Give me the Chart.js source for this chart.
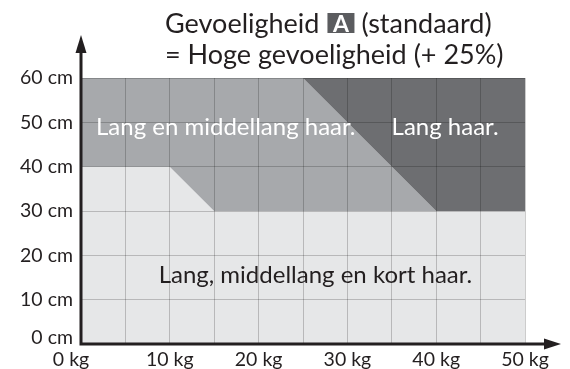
<!DOCTYPE html>
<html>
<head>
<meta charset="utf-8">
<script src="https://cdn.jsdelivr.net/npm/chart.js@4.4.0/dist/chart.umd.min.js"></script>
<style>
  html, body { margin: 0; padding: 0; background: #fff; }
  #wrap { width: 570px; height: 369px; }
</style>
</head>
<body>
<div id="wrap"><canvas id="chart"></canvas></div>
<script>
// zone outlines, weight (kg) against hair length (cm)
const allHairX = [0, 0, 50, 50];
const allHairY = [0, 60, 60, 0];
const midHairX = [0, 10, 15, 40, 25, 0];
const midHairY = [40, 40, 30, 30, 60, 60];
const longHairX = [25, 50, 50, 40];
const longHairY = [60, 60, 30, 30];

const xTicks = [0, 10, 20, 30, 40, 50];
const yTicks = [0, 10, 20, 30, 40, 50, 60];

const zoneLabels = ['Lang, middellang en kort haar.', 'Lang en middellang haar.', 'Lang haar.'];
const zoneLabelX = [26.4, 16.3, 41];
const zoneLabelY = [15.6, 49, 49];
const zoneLabelColors = ['#231f20', '#ffffff', '#ffffff'];

const FONT = 'Lato, "Open Sans", sans-serif';
const INK = '#231f20';

function toPoints(xs, ys) {
    return xs.map((x, i) => ({ x: x, y: ys[i] }));
}

function zone(xs, ys, color) {
    return {
        data: toPoints(xs, ys),
        showLine: true,
        fill: 'shape',
        backgroundColor: color,
        borderWidth: 0,
        borderColor: 'transparent',
        pointRadius: 0,
        tension: 0,
    };
}

// axis lines with arrow heads, zone captions and the heading
const overlay = {
    id: 'overlay',
    afterDraw(chart) {
        const ctx = chart.ctx;
        const xs = chart.scales.x;
        const ys = chart.scales.y;
        const ox = xs.getPixelForValue(0);
        const oy = ys.getPixelForValue(0);

        ctx.save();
        ctx.strokeStyle = INK;
        ctx.fillStyle = INK;
        ctx.lineWidth = 3;
        ctx.beginPath();
        ctx.moveTo(ox, oy + 1.5);
        ctx.lineTo(ox, 50);
        ctx.moveTo(ox - 1.5, oy);
        ctx.lineTo(546, oy);
        ctx.stroke();

        ctx.beginPath();
        ctx.moveTo(ox, 35);
        ctx.lineTo(ox - 5.5, 53);
        ctx.lineTo(ox + 5.5, 53);
        ctx.closePath();
        ctx.fill();

        ctx.beginPath();
        ctx.moveTo(561, oy);
        ctx.lineTo(544, oy - 5.5);
        ctx.lineTo(544, oy + 5.5);
        ctx.closePath();
        ctx.fill();

        // captions inside the zones
        ctx.font = '24px ' + FONT;
        ctx.textAlign = 'center';
        ctx.textBaseline = 'middle';
        zoneLabels.forEach((txt, i) => {
            ctx.fillStyle = zoneLabelColors[i];
            ctx.fillText(txt, xs.getPixelForValue(zoneLabelX[i]), ys.getPixelForValue(zoneLabelY[i]));
        });

        // heading, first line has the boxed letter
        ctx.font = '27px ' + FONT;
        ctx.textAlign = 'left';
        ctx.textBaseline = 'alphabetic';
        ctx.fillStyle = INK;
        const left = 165;
        ctx.fillText('Gevoeligheid', left, 33);
        const boxX = left + ctx.measureText('Gevoeligheid').width + 8;
        ctx.fillText('(standaard)', boxX + 34, 33);
        ctx.fillText('= Hoge gevoeligheid (+ 25%)', left, 64);

        ctx.fillStyle = '#5b5c5f';
        ctx.fillRect(boxX, 13, 27, 20);
        ctx.fillStyle = '#ffffff';
        ctx.font = 'bold 23px ' + FONT;
        ctx.textAlign = 'center';
        ctx.fillText('A', boxX + 13.5, 31.5);
        ctx.restore();
    }
};

new Chart(document.getElementById('chart'), {
    type: 'scatter',
    data: {
        // first dataset is painted last, so the widest zone goes at the end
        datasets: [
            zone(longHairX, longHairY, '#6d6e71'),
            zone(midHairX, midHairY, '#a7a9ac'),
            zone(allHairX, allHairY, '#e6e7e8'),
        ],
    },
    options: {
        responsive: true,
        maintainAspectRatio: false,
        animation: false,
        events: [],
        layout: { padding: { top: 78, right: 45, left: 0, bottom: 0 } },
        plugins: {
            legend: { display: false },
            tooltip: { enabled: false },
        },
        scales: {
            x: {
                type: 'linear',
                min: 0,
                max: 50,
                border: { display: false },
                grid: { color: 'rgba(0,0,0,0.2)', lineWidth: 1, drawTicks: false, z: 1 },
                ticks: {
                    stepSize: 5,
                    autoSkip: false,
                    maxRotation: 0,
                    padding: 4,
                    color: INK,
                    font: { family: FONT, size: 19.5 },
                    // trailing spaces nudge the origin label left of the axis
                    callback: (v) => {
                        if (!xTicks.includes(v)) return '';
                        return v === 0 ? v + ' kg    ' : v + ' kg';
                    },
                },
                afterFit: (s) => { s.height = 25; },
            },
            y: {
                type: 'linear',
                min: 0,
                max: 60,
                border: { display: false },
                grid: { color: 'rgba(0,0,0,0.2)', lineWidth: 1, drawTicks: false, z: 1 },
                ticks: {
                    stepSize: 10,
                    autoSkip: false,
                    padding: 8,
                    color: INK,
                    // origin label gets an empty second line so it sits a bit higher
                    font: (c) => ({ family: FONT, size: 19.5, lineHeight: c.tick && c.tick.value === 0 ? 0.62 : 1.2 }),
                    callback: (v) => {
                        if (!yTicks.includes(v)) return '';
                        return v === 0 ? [v + ' cm', ''] : v + ' cm';
                    },
                },
                afterFit: (s) => { s.width = 81; },
            },
        },
    },
    plugins: [overlay],
});
</script>
</body>
</html>
